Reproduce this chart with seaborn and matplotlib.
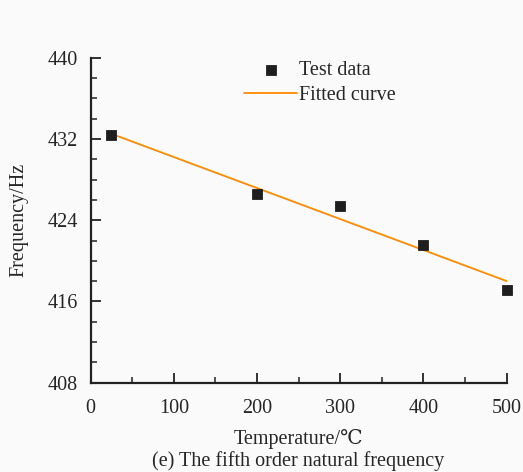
import matplotlib
matplotlib.use("Agg")
import matplotlib.pyplot as plt
import seaborn as sns
import pandas as pd
from matplotlib.ticker import MultipleLocator

# test data
temperature = [25, 200, 300, 400, 500]
frequency = [432.4, 426.6, 425.4, 421.6, 417.1]

# fitted line end points
fit_temperature = [25, 500]
fit_frequency = [432.5, 418.0]

x_ticks = [0, 100, 200, 300, 400, 500]
y_ticks = [408, 416, 424, 432, 440]

sns.set_style("ticks")
plt.rcParams["font.family"] = ["Liberation Serif", "DejaVu Serif"]

test_df = pd.DataFrame({"T": temperature, "f": frequency})
fit_df = pd.DataFrame({"T": fit_temperature, "f": fit_frequency})

fig = plt.figure(figsize=(5.23, 4.72), dpi=100, facecolor="#fafafa")
ax = fig.add_axes([0.1734, 0.1892, 0.7954, 0.6886])
ax.set_facecolor("#fafafa")

sns.lineplot(data=fit_df, x="T", y="f", ax=ax, color="#ff8a00", lw=1.3,
             label="Fitted curve", zorder=2)
sns.scatterplot(data=test_df, x="T", y="f", ax=ax, marker="s", s=55,
                color="#1e1e1e", edgecolor="#1e1e1e", label="Test data",
                zorder=3, clip_on=False)

ax.set_xlim(0, 500)
ax.set_ylim(408, 440)
ax.set_xticks(x_ticks)
ax.set_yticks(y_ticks)
ax.xaxis.set_minor_locator(MultipleLocator(50))
ax.yaxis.set_minor_locator(MultipleLocator(2))
ax.tick_params(which="major", direction="in", length=7, width=1.3,
               labelsize=14.5, color="#222222")
ax.tick_params(axis="x", which="major", pad=12)
ax.tick_params(axis="y", which="major", pad=9)
ax.tick_params(which="minor", direction="in", length=4, width=1.1, color="#222222")

for side in ["top", "right"]:
    ax.spines[side].set_visible(False)
for side in ["left", "bottom"]:
    ax.spines[side].set_linewidth(1.6)
    ax.spines[side].set_color("#222222")

ax.set_xlabel("Temperature/\u2103", fontsize=14.5, labelpad=8)
ax.set_ylabel("Frequency/Hz", fontsize=14.5, labelpad=14)

handles, labels = ax.get_legend_handles_labels()
order = [labels.index("Test data"), labels.index("Fitted curve")]
ax.legend([handles[i] for i in order], [labels[i] for i in order],
          loc="upper left", bbox_to_anchor=(0.35, 1.015), frameon=False,
          fontsize=14.5, handlelength=2.6, handletextpad=0.1, labelspacing=0.3,
          borderaxespad=0)

fig.text(298 / 523, 1 - 461 / 472, "(e) The fifth order natural frequency",
         ha="center", va="center", fontsize=14.5)

fig.savefig("out.png", dpi=100, facecolor=fig.get_facecolor())
